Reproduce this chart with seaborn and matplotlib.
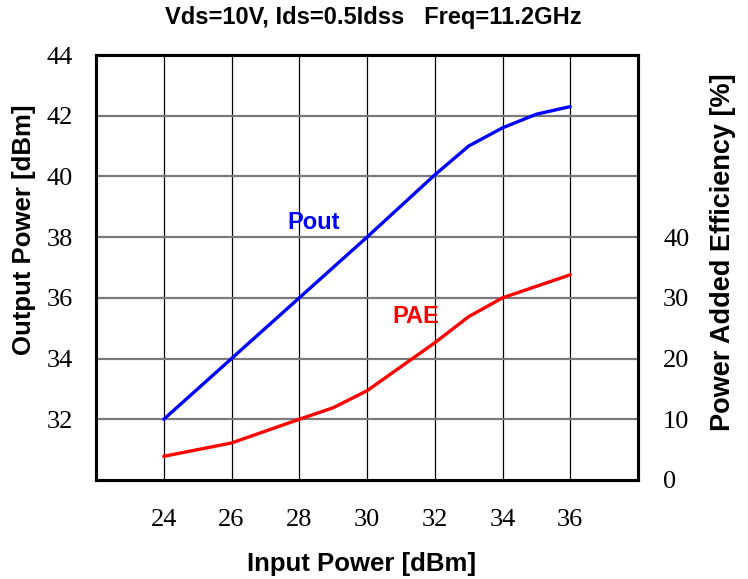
import matplotlib
matplotlib.use("Agg")
import matplotlib.pyplot as plt
import seaborn as sns
import pandas as pd

# ---- data ----
pin_pout = [24, 26, 28, 30, 32, 33, 34, 35, 36]
pout = [32.0, 34.0, 36.0, 38.0, 40.05, 41.0, 41.6, 42.05, 42.3]
pin_pae = [24, 26, 28, 29, 30, 32, 33, 34, 35, 36]
pae = [3.9, 6.1, 10.0, 11.9, 14.7, 22.6, 26.9, 30.0, 31.9, 33.8]
x_ticks = [24, 26, 28, 30, 32, 34, 36]
left_ticks = [32, 34, 36, 38, 40, 42, 44]
right_ticks = [0, 10, 20, 30, 40]
title = "Vds=10V, Ids=0.5Idss   Freq=11.2GHz"

df_pout = pd.DataFrame({"pin": pin_pout, "val": pout})
df_pae = pd.DataFrame({"pin": pin_pae, "val": pae})

sns.set_style("white")
plt.rcParams["font.family"] = ["Liberation Sans", "DejaVu Sans"]
plt.rcParams["text.color"] = "black"
plt.rcParams["axes.labelcolor"] = "black"
plt.rcParams["xtick.color"] = "black"
plt.rcParams["ytick.color"] = "black"

fig = plt.figure(figsize=(7.48, 5.79), dpi=100)
W, H = 748, 579
L, R, T, B = 96, 638, 55, 480
ax = fig.add_axes([L / W, (H - B) / H, (R - L) / W, (B - T) / H])
ax2 = ax.twinx()

sns.lineplot(data=df_pout, x="pin", y="val", ax=ax, color="#0000FF", lw=2.4)
sns.lineplot(data=df_pae, x="pin", y="val", ax=ax2, color="#FF0000", lw=2.4)

ax.set_xlim(22, 38)
ax.set_ylim(30, 44)
ax2.set_ylim(0, 70)
ax.set_xticks(x_ticks)
ax.set_yticks(left_ticks)
ax2.set_yticks(right_ticks)

tick_font = dict(family=["Liberation Serif", "DejaVu Serif"], size=19, color="black")
ax.set_xticklabels([str(t) for t in x_ticks], fontdict=tick_font)
ax.set_yticklabels([str(t) for t in left_ticks], fontdict=tick_font)
ax2.set_yticklabels([str(t) for t in right_ticks], fontdict=tick_font)

ax.tick_params(axis="x", length=0, pad=21)
ax.tick_params(axis="y", length=0, pad=16.5)
ax2.tick_params(axis="y", length=0, pad=18)

ax.grid(True, axis="x", color="black", lw=0.9)
ax.grid(True, axis="y", color="#7a7a7a", lw=1.6)
ax2.grid(False)
ax.set_axisbelow(True)

for a in (ax, ax2):
    for s in a.spines.values():
        s.set_visible(True)
        s.set_color("black")
        s.set_linewidth(2.2)

ax.set_xlabel("Input Power [dBm]", va="center", fontsize=18.5, fontweight="bold")
ax.xaxis.set_label_coords((362 - L) / (R - L), (B - 564) / (B - T))
ax.set_ylabel("Output Power [dBm]", va="center", ha="center", fontsize=18.5, fontweight="bold")
ax.yaxis.set_label_coords((24 - L) / (R - L), (B - 230) / (B - T))
ax2.set_ylabel("Power Added Efficiency [%]", va="center", ha="center", rotation=90,
               fontsize=19.5, fontweight="bold")
ax2.yaxis.set_label_coords((723 - L) / (R - L), (B - 252) / (B - T))

ax.text(28.43, 38.47, "Pout", color="#0000FF", fontsize=17, fontweight="bold",
        ha="center", va="center")
ax.text(31.45, 35.4, "PAE", color="#FF0000", fontsize=17, fontweight="bold",
        ha="center", va="center")

fig.text(373 / W, 1 - 24 / H, title, ha="center", va="baseline",
         fontsize=17, fontweight="bold")

fig.savefig("out.png", dpi=100)
